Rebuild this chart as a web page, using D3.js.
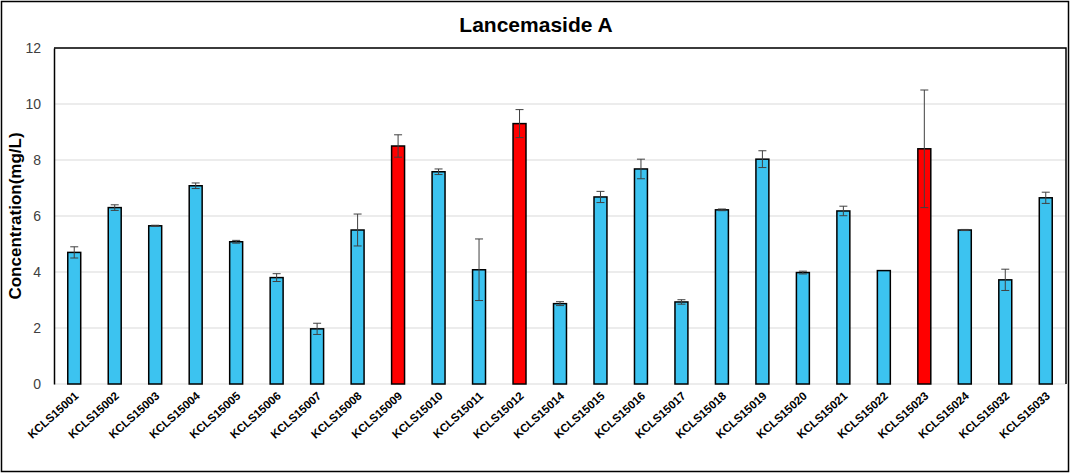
<!DOCTYPE html>
<html>
<head>
<meta charset="utf-8">
<script src="https://cdn.jsdelivr.net/npm/d3@7"></script>
<style>
  body { margin: 0; background: #fff; }
  svg { display: block; font-family: "Liberation Sans", Arial, sans-serif; }
</style>
</head>
<body>
<div id="chart"></div>
<script>
// data
const samples = ["KCLS15001","KCLS15002","KCLS15003","KCLS15004","KCLS15005","KCLS15006","KCLS15007","KCLS15008","KCLS15009","KCLS15010","KCLS15011","KCLS15012","KCLS15014","KCLS15015","KCLS15016","KCLS15017","KCLS15018","KCLS15019","KCLS15020","KCLS15021","KCLS15022","KCLS15023","KCLS15024","KCLS15032","KCLS15033"];
const conc = [4.7, 6.3, 5.65, 7.08, 5.08, 3.8, 1.97, 5.5, 8.5, 7.58, 4.08, 9.3, 2.87, 6.68, 7.68, 2.93, 6.22, 8.03, 3.98, 6.18, 4.05, 8.4, 5.5, 3.72, 6.65];
const err = [0.2, 0.1, 0.02, 0.1, 0.05, 0.14, 0.2, 0.57, 0.4, 0.1, 1.1, 0.5, 0.07, 0.2, 0.35, 0.08, 0.03, 0.3, 0.05, 0.17, 0, 2.1, 0.02, 0.38, 0.2];
const highlighted = ["KCLS15009", "KCLS15012", "KCLS15023"];
const yTicks = [0, 2, 4, 6, 8, 10, 12];

const W = 1072, H = 473;
const margin = { top: 48, right: 6, bottom: 89, left: 54 };
const width = 1066 - margin.left;
const height = 384 - margin.top;

const rows = samples.map((s, i) => ({ name: s, v: conc[i], e: err[i] }));

const svg = d3.select("#chart").append("svg")
    .attr("width", W)
    .attr("height", H);

// outer frame
svg.append("rect")
    .attr("x", 1.5).attr("y", 1.5)
    .attr("width", W - 5).attr("height", H - 3)
    .attr("fill", "none").attr("stroke", "#000").attr("stroke-width", 1.5);

const g = svg.append("g")
    .attr("transform", "translate(" + margin.left + "," + margin.top + ")");

const x = d3.scaleBand()
    .domain(samples)
    .range([0, width])
    .paddingInner(0.68)
    .paddingOuter(0.34);

const y = d3.scaleLinear()
    .domain([0, 12])
    .range([height, 0]);

// gridlines
g.selectAll(".grid").data(yTicks).enter().append("line")
    .attr("x1", 0).attr("x2", width)
    .attr("y1", d => y(d)).attr("y2", d => y(d))
    .attr("stroke", "#d9d9d9").attr("stroke-width", 1);

// plot frame: top, right in black
g.append("path")
    .attr("d", "M0," + y(12) + "H" + width + "V" + height)
    .attr("fill", "none").attr("stroke", "#000").attr("stroke-width", 1.5);

// y axis
const yAxis = g.append("g")
    .call(d3.axisLeft(y).tickValues(yTicks).tickSize(0).tickPadding(13));
yAxis.select(".domain").attr("stroke", "#000").attr("stroke-width", 1.5);
yAxis.selectAll("text")
    .attr("font-size", 14)
    .attr("fill", "#404040");

// bars
g.selectAll(".bar").data(rows).enter().append("rect")
    .attr("x", d => x(d.name))
    .attr("y", d => y(d.v))
    .attr("width", x.bandwidth())
    .attr("height", d => height - y(d.v))
    .attr("fill", d => highlighted.includes(d.name) ? "#ff0000" : "#3cc3f0")
    .attr("stroke", "#000")
    .attr("stroke-width", 1.5);

// error bars
const eb = g.selectAll(".err").data(rows.filter(d => d.e > 0)).enter().append("g")
    .attr("stroke", "#404040").attr("stroke-width", 1);
eb.append("line")
    .attr("x1", d => x(d.name) + x.bandwidth() / 2)
    .attr("x2", d => x(d.name) + x.bandwidth() / 2)
    .attr("y1", d => y(d.v - d.e))
    .attr("y2", d => y(d.v + d.e));
[1, -1].forEach(s => {
    eb.append("line")
        .attr("x1", d => x(d.name) + x.bandwidth() / 2 - 4)
        .attr("x2", d => x(d.name) + x.bandwidth() / 2 + 4)
        .attr("y1", d => y(d.v + s * d.e))
        .attr("y2", d => y(d.v + s * d.e));
});

// x labels, rotated
g.selectAll(".xlab").data(samples).enter().append("text")
    .attr("transform", d => "translate(" + (x(d) + x.bandwidth() / 2 + 5) + "," + (height + 13) + ") rotate(-42)")
    .attr("text-anchor", "end")
    .attr("font-size", 11.5)
    .attr("font-weight", "bold")
    .attr("fill", "#000")
    .text(d => d);

// title
svg.append("text")
    .attr("x", 536).attr("y", 32)
    .attr("text-anchor", "middle")
    .attr("font-size", 21)
    .attr("font-weight", "bold")
    .text("Lancemaside A");

// y title
svg.append("text")
    .attr("transform", "translate(21," + (margin.top + height / 2) + ") rotate(-90)")
    .attr("text-anchor", "middle")
    .attr("font-size", 17)
    .attr("font-weight", "bold")
    .text("Concentration(mg/L)");
</script>
</body>
</html>
